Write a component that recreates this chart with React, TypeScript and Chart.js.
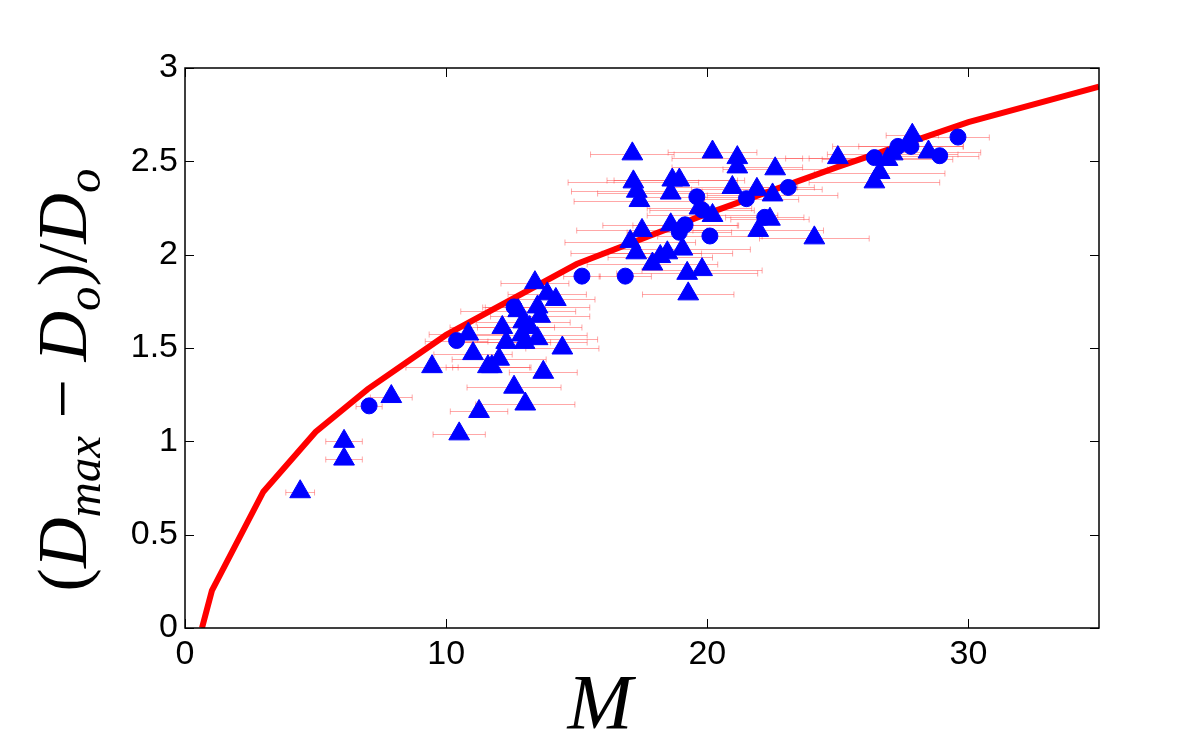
import React, { useEffect, useRef } from "react";
import { Chart, registerables } from "chart.js";
Chart.register(...registerables);

// Model curve
const curveM = [0.65, 1.03, 3, 5, 7, 10, 15, 20, 25, 30, 35];
const curveR = [0, 0.2, 0.73, 1.05, 1.28, 1.57, 1.95, 2.22, 2.47, 2.71, 2.9];

// Triangle data (M, ratio, horizontal error)
const triM = [4.41, 6.09, 6.09, 7.9, 9.46, 10.5, 10.85, 11.03, 11.26, 11.6, 11.75, 12.03, 12.15, 12.3, 12.6, 13.03, 12.76, 12.95, 13.2, 12.9, 13.5, 13.0, 13.5, 13.6, 13.4, 13.87, 14.2, 14.45, 13.72, 17.13, 20.2, 21.15, 21.15, 22.6, 17.17, 17.3, 17.4, 18.66, 18.93, 18.6, 20.96, 21.9, 22.5, 20.2, 17.5, 18.6, 17.05, 17.28, 19.05, 18.47, 18.2, 17.9, 19.23, 19.8, 19.27, 21.95, 22.4, 24.1, 25.0, 26.4, 26.6, 27.1, 27.85, 28.47, 26.9, 19.7];
const triR = [0.73, 1.0, 0.905, 1.24, 1.4, 1.04, 1.575, 1.47, 1.16, 1.4, 1.4, 1.44, 1.61, 1.53, 1.29, 1.2, 1.7, 1.64, 1.61, 1.57, 1.55, 1.53, 1.72, 1.67, 1.85, 1.79, 1.76, 1.5, 1.37, 2.54, 2.55, 2.52, 2.47, 2.46, 2.39, 2.34, 2.29, 2.4, 2.4, 2.33, 2.36, 2.35, 2.32, 2.21, 2.13, 2.16, 2.07, 2.01, 2.03, 2.01, 1.99, 1.95, 1.9, 1.92, 1.79, 2.13, 2.19, 2.09, 2.52, 2.39, 2.44, 2.54, 2.64, 2.55, 2.51, 2.25];
const triErr = [0.55, 0.7, 0.7, 0.8, 1.0, 1.0, 1.5, 1.5, 1.1, 1.6, 1.5, 1.8, 2.0, 1.7, 1.8, 1.9, 2.2, 1.8, 2.0, 2.5, 2.3, 2.4, 2.0, 1.9, 1.3, 1.5, 1.5, 1.4, 1.3, 1.6, 1.7, 2.5, 2.5, 2.0, 2.5, 2.5, 2.5, 2.5, 2.5, 2.8, 2.5, 2.5, 2.5, 2.5, 2.5, 2.6, 2.5, 2.5, 2.6, 2.5, 2.0, 2.5, 2.7, 2.3, 1.75, 2.5, 1.5, 2.1, 2.0, 2.5, 2.5, 2.5, 1.0, 2.0, 2.5, 2.0];

// Circle data
const cirM = [7.05, 10.4, 12.6, 15.2, 16.86, 19.6, 19.8, 21.5, 23.1, 19.15, 18.93, 20.1, 22.2, 26.4, 27.3, 27.8, 28.9, 29.6];
const cirR = [1.19, 1.54, 1.72, 1.885, 1.885, 2.31, 2.24, 2.3, 2.36, 2.16, 2.12, 2.1, 2.2, 2.52, 2.58, 2.58, 2.53, 2.63];
const cirErr = [0.5, 1.2, 1.2, 0.7, 1.0, 2.0, 2.0, 2.0, 1.0, 2.0, 2.0, 2.0, 1.5, 2.5, 2.5, 2.0, 1.5, 1.2];

const xTicks = [0, 10, 20, 30];
const yTicks = [0, 0.5, 1, 1.5, 2, 2.5, 3];

type Part = { t: string; italic?: boolean; sub?: boolean };
const yTitle: Part[] = [
  { t: "(" },
  { t: "D", italic: true },
  { t: "max", italic: true, sub: true },
  { t: " \u2212 " },
  { t: "D", italic: true },
  { t: "o", italic: true, sub: true },
  { t: ")" },
  { t: "/" },
  { t: "D", italic: true },
  { t: "o", italic: true, sub: true },
];

const SERIF = '"Liberation Serif", "DejaVu Serif", serif';

function fontFor(p: Part, base: number) {
  const size = p.sub ? base * 0.7 : base;
  return `${p.italic ? "italic " : ""}${size}px ${SERIF}`;
}

function drawParts(ctx: CanvasRenderingContext2D, parts: Part[], base: number) {
  let total = 0;
  const widths = parts.map((p) => {
    ctx.font = fontFor(p, base);
    const w = ctx.measureText(p.t).width;
    total += w;
    return w;
  });
  let x = -total / 2;
  parts.forEach((p, i) => {
    ctx.font = fontFor(p, base);
    ctx.fillText(p.t, x, p.sub ? base * 0.2 : 0);
    x += widths[i];
  });
}

const errPlugin = {
  id: "errbars",
  beforeDatasetsDraw(chart: any) {
    const { ctx, scales, chartArea } = chart;
    const xs = scales.x;
    const ys = scales.y;
    ctx.save();
    ctx.beginPath();
    ctx.rect(chartArea.left, chartArea.top, chartArea.right - chartArea.left, chartArea.bottom - chartArea.top);
    ctx.clip();
    ctx.strokeStyle = "rgba(255,60,60,0.45)";
    ctx.lineWidth = 1;
    const draw = (ms: number[], rs: number[], es: number[]) => {
      ms.forEach((m, i) => {
        const x1 = xs.getPixelForValue(m - es[i]);
        const x2 = xs.getPixelForValue(m + es[i]);
        const y = Math.round(ys.getPixelForValue(rs[i])) + 0.5;
        ctx.beginPath();
        ctx.moveTo(x1, y);
        ctx.lineTo(x2, y);
        ctx.moveTo(x1, y - 3);
        ctx.lineTo(x1, y + 3);
        ctx.moveTo(x2, y - 3);
        ctx.lineTo(x2, y + 3);
        ctx.stroke();
      });
    };
    draw(triM, triR, triErr);
    draw(cirM, cirR, cirErr);
    ctx.restore();
  },
};

const framePlugin = {
  id: "frame",
  afterDraw(chart: any) {
    const { ctx, chartArea, scales } = chart;
    const { left, right, top, bottom } = chartArea;
    ctx.save();
    ctx.strokeStyle = "#000";
    ctx.lineWidth = 1.5;
    ctx.strokeRect(left, top, right - left, bottom - top);
    ctx.lineWidth = 1;
    const tl = 9;
    ctx.beginPath();
    xTicks.forEach((v) => {
      const x = Math.round(scales.x.getPixelForValue(v)) + 0.5;
      ctx.moveTo(x, bottom);
      ctx.lineTo(x, bottom - tl);
      ctx.moveTo(x, top);
      ctx.lineTo(x, top + tl);
    });
    yTicks.forEach((v) => {
      const y = Math.round(scales.y.getPixelForValue(v)) + 0.5;
      ctx.moveTo(left, y);
      ctx.lineTo(left + tl, y);
      ctx.moveTo(right, y);
      ctx.lineTo(right - tl, y);
    });
    ctx.stroke();

    ctx.fillStyle = "#000";
    ctx.textAlign = "left";
    ctx.textBaseline = "alphabetic";
    // x title
    ctx.save();
    ctx.translate(600, 728);
    drawParts(ctx, [{ t: "M", italic: true }], 78);
    ctx.restore();
    // y title
    ctx.save();
    ctx.translate(86, 380);
    ctx.rotate(-Math.PI / 2);
    drawParts(ctx, yTitle, 70);
    ctx.restore();
    ctx.restore();
  },
};

export default function App() {
  const ref = useRef<HTMLCanvasElement>(null);
  useEffect(() => {
    document.body.style.margin = "0";
    document.body.style.overflow = "hidden";
    const canvas = ref.current!;
    const tickFont = { family: '"Liberation Sans", Arial, sans-serif', size: 34 };
    const chart = new Chart(canvas, {
      type: "scatter",
      data: {
        datasets: [
          {
            type: "line",
            data: curveM.map((m, i) => ({ x: m, y: curveR[i] })),
            borderColor: "#ff0000",
            borderWidth: 6,
            pointRadius: 0,
            tension: 0,
            fill: false,
            order: 2,
          } as any,
          {
            data: triM.map((m, i) => ({ x: m, y: triR[i] })),
            pointStyle: "triangle",
            pointRadius: 12,
            backgroundColor: "#0000ff",
            borderColor: "#0000ff",
            borderWidth: 1,
            order: 1,
          },
          {
            data: cirM.map((m, i) => ({ x: m, y: cirR[i] })),
            pointStyle: "circle",
            pointRadius: 8,
            backgroundColor: "#0000ff",
            borderColor: "#0000ff",
            borderWidth: 1,
            order: 1,
          },
        ],
      },
      options: {
        responsive: false,
        animation: false,
        layout: { padding: { top: 68, right: 81, left: 0, bottom: 0 } },
        plugins: { legend: { display: false }, tooltip: { enabled: false } },
        scales: {
          x: {
            type: "linear",
            min: 0,
            max: 35,
            afterBuildTicks: (s: any) => {
              s.ticks = xTicks.map((v) => ({ value: v }));
            },
            afterFit: (s: any) => {
              s.height = 127;
            },
            grid: { display: false, drawTicks: false },
            border: { display: false },
            ticks: { padding: 6, font: tickFont, color: "#000", maxRotation: 0, callback: (v: any) => String(v) },
          },
          y: {
            type: "linear",
            min: 0,
            max: 3,
            afterBuildTicks: (s: any) => {
              s.ticks = yTicks.map((v) => ({ value: v }));
            },
            afterFit: (s: any) => {
              s.width = 185;
            },
            grid: { display: false, drawTicks: false },
            border: { display: false },
            ticks: { padding: 7, font: tickFont, color: "#000", callback: (v: any) => String(v) },
          },
        },
      } as any,
      plugins: [errPlugin, framePlugin],
    });
    return () => chart.destroy();
  }, []);
  return <canvas ref={ref} width={1180} height={755} style={{ display: "block" }} />;
}
